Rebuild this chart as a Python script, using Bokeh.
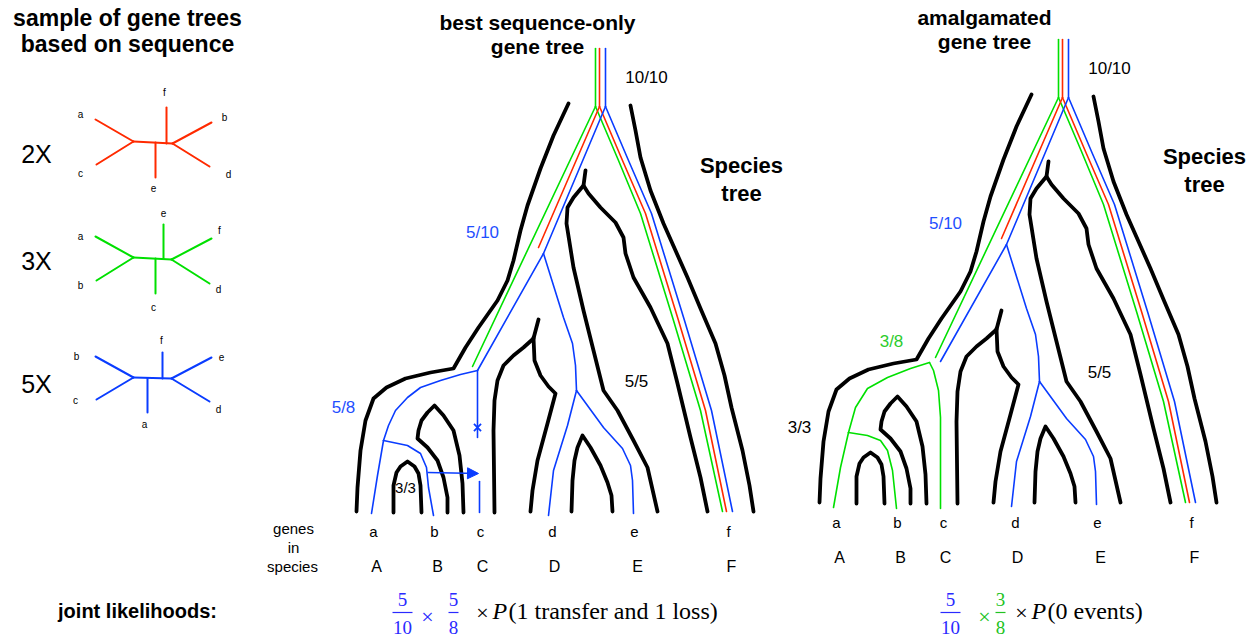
from bokeh.plotting import figure
from bokeh.models import Range1d, Arrow, NormalHead
from bokeh.core.properties import value
from bokeh.embed import file_html
from bokeh.resources import INLINE

# ------------------------------------------------------------------ data
RED = "#ff2a00"
GREEN = "#00e000"
BLUE = "#0a3cff"
TBLUE = "#1f4fff"
TGREEN = "#2ccc2c"
EQBLUE = "#2a2aff"
EQGREEN = "#22c322"

# small unrooted gene trees sampled from sequence (left panel)
sample_names = ["2X", "3X", "5X"]
sample_name_y = [153, 260, 383]
sample_colors = [RED, GREEN, BLUE]
sample_edges = [
    [[(95, 119), (133, 141)], [(96, 164), (133, 141)], [(133, 141), (172, 143)],
     [(155, 142), (155, 177)], [(166, 143), (166, 107)], [(172, 143), (211, 122)],
     [(172, 143), (209, 166)]],
    [[(95, 236), (133, 257)], [(96, 280), (133, 257)], [(133, 257), (171, 259)],
     [(163, 258), (163, 224)], [(155, 258), (155, 293)], [(171, 259), (211, 238)],
     [(171, 259), (209, 283)]],
    [[(95, 356), (133, 377)], [(96, 399), (133, 377)], [(133, 377), (171, 378)],
     [(147, 378), (147, 412)], [(162, 378), (162, 352)], [(171, 378), (211, 357)],
     [(171, 378), (209, 401)]],
]
sample_leaf_names = [["a", "f", "b", "c", "e", "d"],
                     ["a", "e", "f", "b", "c", "d"],
                     ["b", "f", "e", "c", "a", "d"]]
sample_leaf_xy = [[(80, 114), (164, 92), (224, 117), (80, 173), (153, 187), (228, 174)],
                  [(80, 236), (163, 212), (219, 230), (80, 285), (153, 307), (218, 289)],
                  [(76, 356), (161, 340), (221, 356), (75, 400), (144, 424), (218, 409)]]

# species tree outline strokes (middle panel coordinates)
species_strokes = [
    # outer left
    [(568, 103), (553, 135), (540, 168), (527, 205), (520, 230), (513, 260), (507, 280),
     (497, 300), (478, 327), (465, 347), (453, 368), (430, 372), (405, 378), (386, 387),
     (373, 398), (365, 420), (360, 450), (357, 487), (356, 511)],
    # outer right
    [(630, 105), (635, 130), (640, 157), (650, 190), (663, 223), (675, 250), (687, 277),
     (700, 308), (715, 343), (724, 375), (731, 407), (742, 450), (749, 485), (753, 511)],
    # (ABCDE | F) split, left arm
    [(585, 170), (583, 185), (573, 197), (567, 207), (566, 223), (573, 267), (583, 310),
     (593, 350), (603, 390), (617, 410), (633, 440), (647, 467), (657, 511)],
    # (ABCDE | F) split, right arm
    [(583, 185), (588, 193), (600, 207), (615, 222), (623, 237), (625, 253), (633, 277),
     (650, 307), (667, 343), (677, 383), (690, 437), (700, 477), (707, 511)],
    # (ABC | DE) split
    [(494, 512), (493, 430), (494, 400), (497, 380), (503, 365), (513, 355), (523, 347),
     (533, 338), (538, 319)],
    [(533, 337), (534, 360), (540, 375), (548, 386), (555, 393), (547, 423), (537, 460),
     (532, 490), (530, 511)],
    # (D | E) split
    [(571, 511), (572, 480), (574, 460), (577, 447), (582, 435), (590, 447), (600, 465),
     (607, 482), (611, 495), (612, 511)],
    # (AB | C) split
    [(447, 512), (447, 497), (443, 477), (437, 460), (427, 447), (417, 438), (418, 430),
     (421, 420), (427, 412), (434, 405), (443, 415), (453, 430), (459, 455), (462, 483),
     (463, 512)],
    # (A | B) split
    [(393, 512), (393, 485), (396, 472), (400, 466), (407, 461), (414, 466), (418, 473),
     (420, 485), (421, 512)],
]
right_shift = (463, -9)

# gene tree lines (middle panel coordinates)
green_trunk = [(595, 48), (595, 106)]
red_trunk = [(599, 48), (599, 106)]
blue_trunk = [(605, 48), (605, 106)]
green_left = [(595, 106), (472, 366)]
red_left = [(599, 106), (538, 247)]
blue_left = [(605, 106), (543, 253), (477, 370)]
green_right = [(595, 106), (618, 160), (640, 213), (673, 320), (700, 410), (722, 511)]
red_right = [(599, 106), (622, 160), (645, 213), (678, 320), (705, 410), (726, 511)]
blue_right = [(605, 106), (628, 160), (651, 213), (684, 320), (711, 410), (732, 511)]
blue_to_DE = [(543, 253), (563, 317), (572, 343), (575, 365), (576, 390)]
blue_to_d = [(576, 390), (567, 425), (553, 470), (548, 515)]
blue_to_e = [(576, 390), (603, 427), (622, 448), (630, 465), (632, 480), (633, 513)]
# best sequence-only tree: blue lineage with loss and transfer
blue_loss = [(477, 370), (477, 437)]
blue_c_stub = [(479, 481), (479, 512)]
blue_to_AB = [(477, 370), (460, 374), (440, 380), (420, 387), (407, 397), (395, 410),
              (388, 425), (383, 440)]
blue_to_a = [(383, 440), (377, 475), (371, 513)]
blue_to_b = [(383, 440), (407, 445), (420, 453), (426, 467), (428, 487), (433, 515)]
loss_mark = (477, 427)
transfer_from = (427, 472)
transfer_to = (478, 473)
# amalgamated tree: green lineage for ABC (right panel coordinates)
green_to_c = [(929, 362), (933, 370), (938, 390), (940, 417), (940, 508)]
green_to_AB = [(929, 362), (910, 368), (887, 377), (867, 388), (855, 407), (848, 432)]
green_to_a = [(848, 432), (840, 467), (833, 507)]
green_to_b = [(848, 432), (867, 435), (880, 440), (887, 450), (892, 470), (896, 508)]

# labels
gene_names = ["a", "b", "c", "d", "e", "f"]
gene_x = [373, 434, 480, 552, 634, 728]
gene_y = 531
species_names = ["A", "B", "C", "D", "E", "F"]
species_x = [376, 437, 482, 554, 637, 731]
species_y = 566

# ------------------------------------------------------------------ figure
W, H = 1260, 638
p = figure(width=W, height=H, x_range=Range1d(0, W), y_range=Range1d(H, 0),
           output_backend="svg", toolbar_location=None, min_border=0)
p.axis.visible = False
p.grid.visible = False
p.outline_line_color = None
p.background_fill_color = "white"

SANS = value("Liberation Sans")
SERIF = value("Liberation Serif")


def lines(paths, color, width, dx=0, dy=0):
    xs = [[x + dx for x, _ in pts] for pts in paths]
    ys = [[y + dy for _, y in pts] for pts in paths]
    p.multi_line(xs, ys, line_color=color, line_width=width,
                 line_cap="round", line_join="round")


def txt(x, y, s, size, color="black", bold=False, align="center", font=SANS,
        italic=False):
    style = "bold" if bold else ("italic" if italic else "normal")
    p.text([x], [y], text=[s], text_font=font, text_font_size=f"{size}px",
           text_font_style=style, text_color=color, text_align=align,
           text_baseline="middle")


# left panel
txt(127, 17, "sample of gene trees", 23, bold=True)
txt(127, 43, "based on sequence", 23, bold=True)
for name, ny, col, edges, lnames, lxy in zip(sample_names, sample_name_y, sample_colors,
                                            sample_edges, sample_leaf_names, sample_leaf_xy):
    txt(36, ny, name, 25)
    lines(edges, col, 2)
    for s, (lx, ly) in zip(lnames, lxy):
        txt(lx, ly, s, 10)

# species trees (both panels)
lines(species_strokes, "black", 3.8)
lines(species_strokes, "black", 3.8, *right_shift)

# gene trees, middle panel
lines([green_trunk, green_left, green_right], GREEN, 1.6)
lines([red_trunk, red_left, red_right], RED, 1.6)
lines([blue_trunk, blue_left, blue_right, blue_to_DE, blue_to_d, blue_to_e,
       blue_loss, blue_c_stub, blue_to_AB, blue_to_a, blue_to_b], BLUE, 1.6)
p.scatter([loss_mark[0]], [loss_mark[1]], marker="x", size=10, line_color=BLUE, line_width=1.8)
p.add_layout(Arrow(end=NormalHead(size=11, fill_color=BLUE, line_color=BLUE, line_width=1),
                   x_start=transfer_from[0], y_start=transfer_from[1],
                   x_end=transfer_to[0], y_end=transfer_to[1],
                   line_color=BLUE, line_width=1.6))

# gene trees, right panel
dx, dy = right_shift
lines([green_trunk, green_left, green_right], GREEN, 1.6, dx, dy)
lines([green_to_c, green_to_AB, green_to_a, green_to_b], GREEN, 1.6)
lines([red_trunk, red_left, red_right], RED, 1.6, dx, dy)
lines([blue_trunk, blue_left, blue_right, blue_to_DE, blue_to_d, blue_to_e], BLUE, 1.6, dx, dy)

# titles and support values
txt(537, 22, "best sequence-only", 21, bold=True)
txt(537, 46, "gene tree", 21, bold=True)
txt(984, 17, "amalgamated", 21, bold=True)
txt(984, 41, "gene tree", 21, bold=True)
for ox, oy in [(0, 0), right_shift]:
    txt(646 + ox, 77 + oy, "10/10", 17)
    txt(741 + ox, 165 + oy, "Species", 22, bold=True)
    txt(741 + ox, 193 + oy, "tree", 22, bold=True)
    txt(482 + ox, 232 + oy, "5/10", 17, color=TBLUE)
    txt(636 + ox, 381 + oy, "5/5", 17)
    for s, gx in zip(gene_names, gene_x):
        txt(gx + ox, gene_y + oy, s, 15)
    for s, sx in zip(species_names, species_x):
        txt(sx + ox, species_y + oy, s, 16)
txt(343, 407, "5/8", 17, color=TBLUE)
txt(405, 487, "3/3", 15)
txt(891, 341, "3/8", 17, color=TGREEN)
txt(799, 427, "3/3", 17)
txt(293, 528, "genes", 15)
txt(293, 547, "in", 15)
txt(292, 566, "species", 15)
txt(137, 610, "joint likelihoods:", 20, bold=True)


# equations
def frac(x, num, den, color):
    txt(x, 599, num, 19, color=color, font=SERIF)
    half = 5 if len(den) == 1 else 10
    p.segment([x - half], [612], [x + half], [612], line_color=color, line_width=1.2)
    txt(x, 627, den, 19, color=color, font=SERIF)


frac(402, "5", "10", EQBLUE)
txt(427, 616, "×", 22, color=EQBLUE, font=SERIF)
frac(453, "5", "8", EQBLUE)
txt(482, 612, "×", 22, font=SERIF)
txt(492, 610, "P", 24, font=SERIF, italic=True, align="left")
txt(508, 610, "(1 transfer and 1 loss)", 24, font=SERIF, align="left")

frac(950, "5", "10", EQBLUE)
txt(984, 616, "×", 22, color=EQGREEN, font=SERIF)
frac(1000, "3", "8", EQGREEN)
txt(1021, 612, "×", 22, font=SERIF)
txt(1031, 610, "P", 24, font=SERIF, italic=True, align="left")
txt(1047, 610, "(0 events)", 24, font=SERIF, align="left")

open("out.html", "w").write(file_html(p, INLINE))
